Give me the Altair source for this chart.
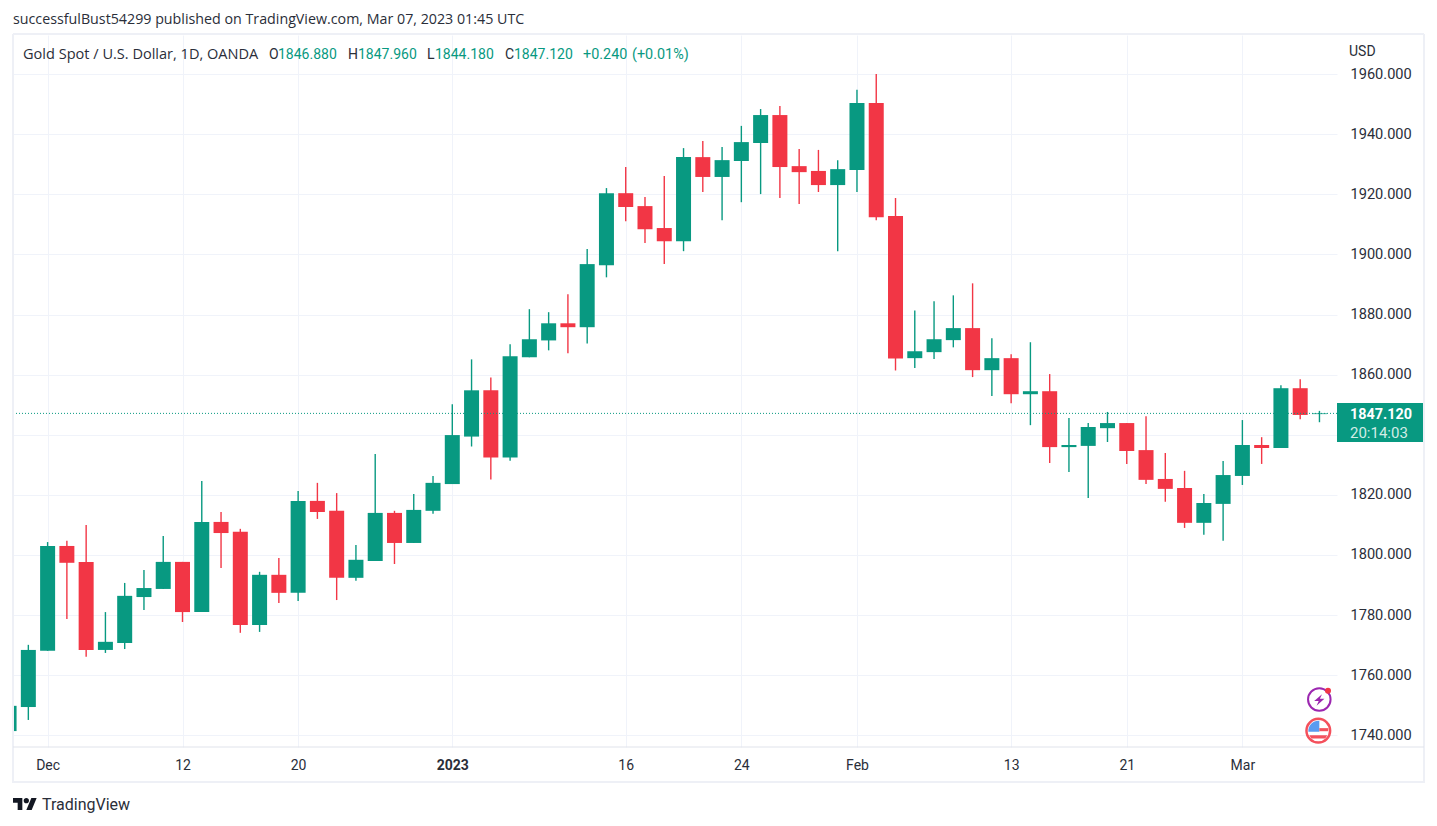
import json
import altair as alt
import pandas as pd

# --- series values -----------------------------------------------------------
opens = [1741.4, 1749.4, 1768.1, 1803.0, 1797.7, 1768.4, 1770.7, 1786.0, 1788.7, 1797.7,
         1781.0, 1811.0, 1807.7, 1776.7, 1793.4, 1787.4, 1818.0, 1814.7, 1792.4, 1798.0,
         1814.0, 1804.0, 1814.7, 1823.6, 1839.4, 1854.8, 1832.4, 1865.8, 1871.4, 1877.1,
         1875.8, 1896.4, 1920.4, 1916.1, 1908.8, 1904.4, 1932.4, 1925.8, 1931.1, 1937.1,
         1946.4, 1929.4, 1927.8, 1923.1, 1928.1, 1950.4, 1912.8, 1865.5, 1867.5, 1871.5,
         1875.5, 1861.5, 1865.5, 1853.5, 1854.5, 1835.9, 1836.3, 1842.2, 1843.9, 1834.9,
         1825.3, 1822.3, 1810.7, 1817.0, 1826.3, 1836.6, 1835.6, 1855.5, 1846.88]
highs = [1749.8, 1770.1, 1804.3, 1804.7, 1810.0, 1781.0, 1790.7, 1795.0, 1806.3, 1797.7,
         1824.6, 1814.3, 1808.7, 1794.4, 1799.0, 1821.3, 1824.0, 1820.6, 1803.3, 1833.6,
         1814.7, 1820.3, 1826.3, 1850.2, 1865.1, 1859.1, 1870.1, 1881.8, 1880.8, 1886.8,
         1901.8, 1922.1, 1929.1, 1919.1, 1926.1, 1935.4, 1937.8, 1935.8, 1942.8, 1948.4,
         1949.4, 1935.1, 1934.8, 1931.4, 1954.8, 1960.1, 1918.8, 1881.4, 1884.4, 1886.4,
         1890.4, 1872.1, 1866.8, 1870.8, 1860.2, 1845.6, 1843.9, 1847.6, 1843.9, 1846.2,
         1833.9, 1828.0, 1820.3, 1831.3, 1844.9, 1839.2, 1856.5, 1858.5, 1847.96]
lows = [1741.4, 1745.1, 1768.1, 1778.7, 1766.1, 1767.4, 1768.7, 1781.7, 1788.7, 1777.7,
        1781.0, 1795.7, 1774.1, 1774.4, 1784.0, 1784.7, 1812.0, 1785.0, 1791.4, 1798.0,
        1797.0, 1804.0, 1813.7, 1823.6, 1836.1, 1825.1, 1831.4, 1865.8, 1868.1, 1867.1,
        1870.4, 1892.4, 1911.1, 1903.8, 1896.8, 1901.1, 1920.8, 1911.4, 1917.4, 1920.1,
        1918.8, 1916.8, 1920.8, 1901.1, 1920.8, 1911.4, 1861.4, 1862.2, 1865.2, 1869.1,
        1859.2, 1852.9, 1850.5, 1843.2, 1830.6, 1827.6, 1819.0, 1837.6, 1830.3, 1823.6,
        1817.7, 1809.0, 1806.7, 1804.7, 1823.3, 1830.3, 1835.6, 1845.2, 1844.18]
closes = [1749.8, 1768.4, 1803.0, 1797.4, 1768.4, 1771.1, 1786.4, 1789.0, 1797.7, 1781.0,
          1811.0, 1807.3, 1776.7, 1793.4, 1787.4, 1818.0, 1814.3, 1792.4, 1798.4, 1814.0,
          1804.0, 1815.0, 1824.0, 1839.9, 1854.8, 1832.4, 1866.1, 1871.8, 1877.1, 1875.8,
          1896.8, 1920.4, 1915.8, 1908.4, 1904.4, 1932.4, 1925.8, 1931.4, 1937.4, 1946.4,
          1929.1, 1927.4, 1923.1, 1928.4, 1950.4, 1912.4, 1865.4, 1867.8, 1871.8, 1875.5,
          1861.5, 1865.5, 1853.5, 1854.5, 1835.9, 1836.6, 1842.6, 1843.9, 1834.6, 1825.0,
          1822.0, 1810.7, 1817.3, 1826.6, 1836.6, 1835.6, 1855.5, 1846.6, 1847.12]
bar_index = list(range(len(closes)))

# --- axes --------------------------------------------------------------------
price_ticks = [1740, 1760, 1780, 1800, 1820, 1840, 1860, 1880, 1900, 1920, 1940, 1960]
date_tick_index = [2, 9, 15, 23, 32, 38, 44, 52, 58, 64]
date_tick_labels = ["Dec", "12", "20", "2023", "16", "24", "Feb", "13", "21", "Mar"]
bold_tick_index = 23
last_price = 1847.12

UP = "#089981"
DOWN = "#F23645"
DARK = "#131722"
SOFT = "#2a2e39"
FONT = "Roboto"
WIDE = "Open Sans"
GRID = "#f0f3fa"
BORDER = "#eef0f6"
LINE = "#e0e3eb"

candles = pd.DataFrame({"i": bar_index, "open": opens, "high": highs, "low": lows, "close": closes})
candles["dir"] = ["up" if c >= o else "down" for o, c in zip(opens, closes)]

x_scale = alt.Scale(domain=[0.204, 68.91], nice=False, zero=False, padding=0)
y_scale = alt.Scale(domain=[1736.1, 1973.04], nice=False, zero=False, padding=0)
colour = alt.Color("dir:N", scale=alt.Scale(domain=["up", "down"], range=[UP, DOWN]), legend=None)

label_map = json.dumps({str(k): v for k, v in zip(date_tick_index, date_tick_labels)})
x_axis = alt.Axis(values=date_tick_index, labelExpr=f"{label_map}[datum.value]", title=None, grid=True,
                  gridColor=GRID, gridWidth=1, domain=False, ticks=False, labelPadding=11,
                  labelFont=FONT, labelFontSize=14, labelColor=SOFT, labelOverlap=False,
                  labelFlush=False, labelBound=False,
                  labelFontWeight={"condition": {"test": f"datum.value == {bold_tick_index}", "value": "bold"},
                                   "value": "normal"})
y_axis = alt.Axis(values=price_ticks, format=".3f", title=None, orient="right", grid=True, gridColor=GRID,
                  gridWidth=1, domain=False, ticks=False, labelPadding=13, labelFont=FONT,
                  labelFontSize=14.6, labelColor=SOFT, labelOverlap=False, labelBound=False, labelFlush=False)

wicks = alt.Chart(candles).mark_rule(strokeWidth=1.4, clip=True).encode(
    x=alt.X("i:Q", scale=x_scale, axis=x_axis),
    y=alt.Y("low:Q", scale=y_scale, axis=y_axis),
    y2="high:Q",
    color=colour,
)
bodies = alt.Chart(candles).mark_bar(size=15, clip=True).encode(
    x=alt.X("i:Q", scale=x_scale),
    y=alt.Y("open:Q", scale=y_scale),
    y2="close:Q",
    color=colour,
)
price_line = alt.Chart(pd.DataFrame({"p": [last_price]})).mark_rule(
    color=UP, strokeWidth=1, strokeDash=[1, 2]
).encode(y=alt.Y("p:Q", scale=y_scale))

blank = alt.Data(values=[{}])


def frame(x, x2, y, y2, col, w):
    return alt.Chart(blank).mark_rule(color=col, strokeWidth=w).encode(
        x=alt.value(x), x2=alt.value(x2), y=alt.value(y), y2=alt.value(y2))


frames = [
    frame(0, 1411, -1, -1, BORDER, 2),
    frame(0, 1411, 747, 747, BORDER, 2),
    frame(0, 0, -1, 748, BORDER, 2),
    frame(1411, 1411, -1, 748, BORDER, 2),
    frame(0, 1411, 712, 712, LINE, 1),
]

price_box = alt.Chart(blank).mark_rect(color=UP).encode(
    x=alt.value(1324), x2=alt.value(1410), y=alt.value(368), y2=alt.value(407))

# --- text: content, left x, baseline-middle y (relative to plot area), colour, size, weight, font
text_items = [
    ("successfulBust54299 published on TradingView.com, Mar 07, 2023 01:45 UTC", 0, -15, SOFT, 14.25, "normal", WIDE),
    ("Gold Spot / U.S. Dollar, 1D, OANDA", 10, 20, SOFT, 14.55, "normal", WIDE),
    ("O", 256, 20, SOFT, 14, "normal", FONT),
    ("1846.880", 265, 20, UP, 14, "normal", FONT),
    ("H", 335, 20, SOFT, 14, "normal", FONT),
    ("1847.960", 345, 20, UP, 14, "normal", FONT),
    ("L", 414, 20, SOFT, 14, "normal", FONT),
    ("1844.180", 422, 20, UP, 14, "normal", FONT),
    ("C", 492, 20, SOFT, 14, "normal", FONT),
    ("1847.120", 501, 20, UP, 14, "normal", FONT),
    ("+0.240", 570, 20, UP, 14.4, "normal", FONT),
    ("(+0.01%)", 619, 20, UP, 14.4, "normal", FONT),
    ("USD", 1336, 17, SOFT, 14, "normal", FONT),
    ("1847.120", 1337, 380, "#ffffff", 14.4, "bold", FONT),
    ("20:14:03", 1337, 398, "#d3ece6", 15, "normal", FONT),
    ("TradingView", 29, 769.5, "#2a2e39", 16, "normal", FONT),
]
texts = [
    alt.Chart(blank).mark_text(text=t, align="left", baseline="middle", font=f, fontSize=s,
                               fontWeight=w, color=c).encode(x=alt.value(x), y=alt.value(y))
    for t, x, y, c, s, w, f in text_items
]

# --- small glyphs: custom path normalised to [-1,1], centre x, y, size, fill
LOGO = ("M-.222 .5H-.611V-.111H-1V-.5H-.222Z M.556 .5H.111L.528 -.5H.972Z "
        "M-.111 -.278a.222 .222 0 1 0 .444 0a.222 .222 0 1 0 -.444 0Z")
BOLT = "M.45 -.95L-.85 .15H-.1L-.45 .95L.85 -.2H.1Z"
CANTON = "M-.97 .1A.98 .98 0 0 1 .1 -.97V.1Z"
STRIPE_MID = "M.1 -.25H.97V.05H.1Z"
STRIPE_LOW = "M-.88 .45H.88L.68 .75H-.68Z"
glyphs = [
    (LOGO, 12, 769, 576, "#131722"),
    (BOLT, 1306.3, 665, 144, "#9c27b0"),
    (CANTON, 1305.3, 695.7, 420, "#5b9bf0"),
    (STRIPE_MID, 1305.3, 695.7, 420, "#f4505c"),
    (STRIPE_LOW, 1305.3, 695.7, 420, "#f4505c"),
    ("circle", 1315, 655.7, 36, DOWN),
]
badge_rings = [
    (1306.3, 664.5, 507, "#9c27b0", 2),
    (1305.3, 695.7, 560, "#f4505c", 2.5),
]
rings = [
    alt.Chart(blank).mark_point(shape="circle", size=s, filled=False, stroke=c, strokeWidth=w, opacity=1).encode(
        x=alt.value(x), y=alt.value(y))
    for x, y, s, c, w in badge_rings
]
glyph_layers = [
    alt.Chart(blank).mark_point(shape=p, size=s, filled=True, fill=c, strokeWidth=0, opacity=1).encode(
        x=alt.value(x), y=alt.value(y))
    for p, x, y, s, c in glyphs
]

chart = alt.layer(
    wicks, bodies, price_line, *frames, price_box, *rings, *glyph_layers, *texts
).properties(
    width=1324, height=712, background="#ffffff",
    autosize=alt.AutoSizeParams(type="none"),
    padding={"left": 5, "top": 27, "right": 92, "bottom": 68},
).configure_view(stroke=None)

chart.save("out.html", embed_options={"renderer": "svg", "actions": False})
